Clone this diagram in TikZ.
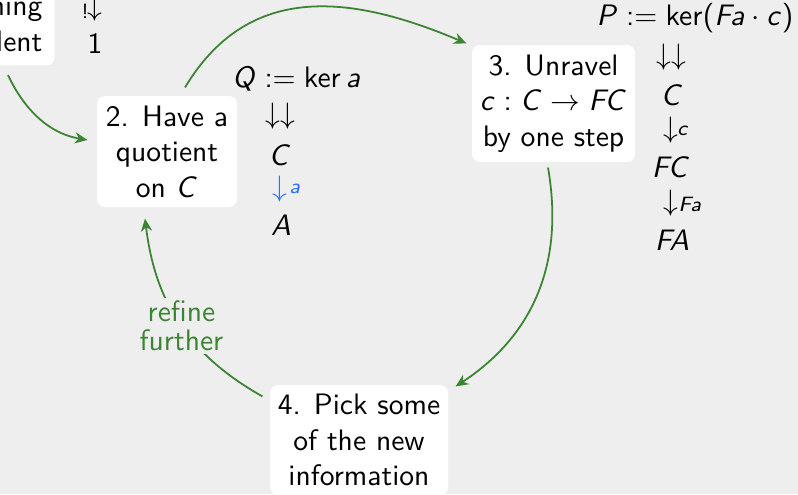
\documentclass[tikz,border=0pt]{standalone}
\usepackage{amssymb}
\usetikzlibrary{arrows.meta}
\DeclareSymbolFont{operators}{OT1}{cmss}{m}{n}
\DeclareSymbolFont{sfslanted}{OT1}{cmss}{m}{sl}
\DeclareMathSymbol{Q}{\mathalpha}{sfslanted}{`Q}
\DeclareMathSymbol{P}{\mathalpha}{sfslanted}{`P}
\DeclareMathSymbol{C}{\mathalpha}{sfslanted}{`C}
\DeclareMathSymbol{A}{\mathalpha}{sfslanted}{`A}
\DeclareMathSymbol{F}{\mathalpha}{sfslanted}{`F}
\DeclareMathSymbol{a}{\mathalpha}{sfslanted}{`a}
\DeclareMathSymbol{c}{\mathalpha}{sfslanted}{`c}
\definecolor{bgc}{RGB}{238,238,238}
\definecolor{edgegreen}{RGB}{58,132,50}
\definecolor{arrowblue}{RGB}{45,115,250}
\newlength\pxu
\setlength\pxu{0.338pt}
\tikzset{
  box/.style={fill=white, rounded corners=8\pxu, align=center, inner sep=0pt, font=\sffamily},
  boxA/.style={box, minimum width=140\pxu, minimum height=111\pxu},
  boxB/.style={box, minimum width=163\pxu, minimum height=117\pxu},
  boxC/.style={box, minimum width=178\pxu, minimum height=110\pxu},
  mth/.style={inner sep=0pt, font=\sffamily},
  lbl/.style={inner sep=0pt, font=\sffamily\scriptsize},
  flow/.style={edgegreen, semithick, -{Stealth[length=4.3pt,width=3.8pt]}},
  reflab/.style={fill=bgc, text=edgegreen, inner sep=1pt, align=center, font=\sffamily},
}
\begin{document}
\begin{tikzpicture}[x=0.338pt, y=-0.338pt]
\clip (0,0) rectangle (798,494);
\fill[bgc] (0,0) rectangle (798,494);

% boxes
\node[box, anchor=south east, text width=30pt, align=right, inner xsep=12\pxu, inner ysep=14\pxu] (n1) at (55,66) {hing\\lent};
\node[boxA] (n2) at (167,151.5) {2. Have a\\quotient\\on $C$};
\node[boxB] (n3) at (553.5,103.5) {3. Unravel\\$c : C \to FC$\\by one step};
\node[boxC] (n4) at (359,440) {4. Pick some\\of the new\\information};

% top-left fragment
\node[mth] (td) at (95,8) {$\downarrow$};
\node[lbl] (tl) at (85,11) {$!$};
\node[mth, anchor=base] (t1) at (95,53) {$1$};

% Q column
\node[mth, anchor=base] (q) at (296.5,87) {$Q := \ker a$};
\node[mth] (qdd) at (280,116.5) {$\downarrow\downarrow$};
\node[mth, anchor=base] (qc) at (280,165) {$C$};
\node[mth, text=arrowblue] (qda) at (280,189) {$\downarrow$};
\node[lbl, text=arrowblue] (qa) at (295,189) {$a$};
\node[mth, anchor=base] (qA) at (281,235) {$A$};

% P column
\node[mth, anchor=base east] (p) at (794,25) {$P := \ker(Fa\cdot c)$};
\node[mth] (pdd) at (671,57.5) {$\downarrow\downarrow$};
\node[mth, anchor=base] (pc) at (672,105) {$C$};
\node[mth] (pdc) at (671,130) {$\downarrow$};
\node[lbl] (plc) at (683,131) {$c$};
\node[mth, anchor=base] (pfc) at (671,177) {$FC$};
\node[mth] (pdf) at (671,203) {$\downarrow$};
\node[lbl] (plf) at (690,204) {$Fa$};
\node[mth, anchor=base] (pfa) at (672,250) {$FA$};

% connectors
\draw[flow] ([shift={(-47,9)}]n1.south east) .. controls +(12.6,27) and +(-44,-7.6) .. ([shift={(-9,-11.5)}]n2.west);
\draw[flow] ([shift={(18,-8)}]n2.north) .. controls +(62,-103) and +(-120,-51) .. ([shift={(-5,-1)}]n3.north west);
\draw[flow] ([shift={(-5.5,5)}]n3.south) .. controls +(17,98) and +(75.6,-49.5) .. ([shift={(7,2)}]n4.north east);
\draw[flow] ([shift={(-7,12)}]n4.north west) .. controls +(-78,-44) and +(9.6,79) .. ([shift={(-22,11)}]n2.south)
  node[reflab, pos=0.47] (rf) {refine\\[-2.4pt]further};
\end{tikzpicture}
\end{document}
